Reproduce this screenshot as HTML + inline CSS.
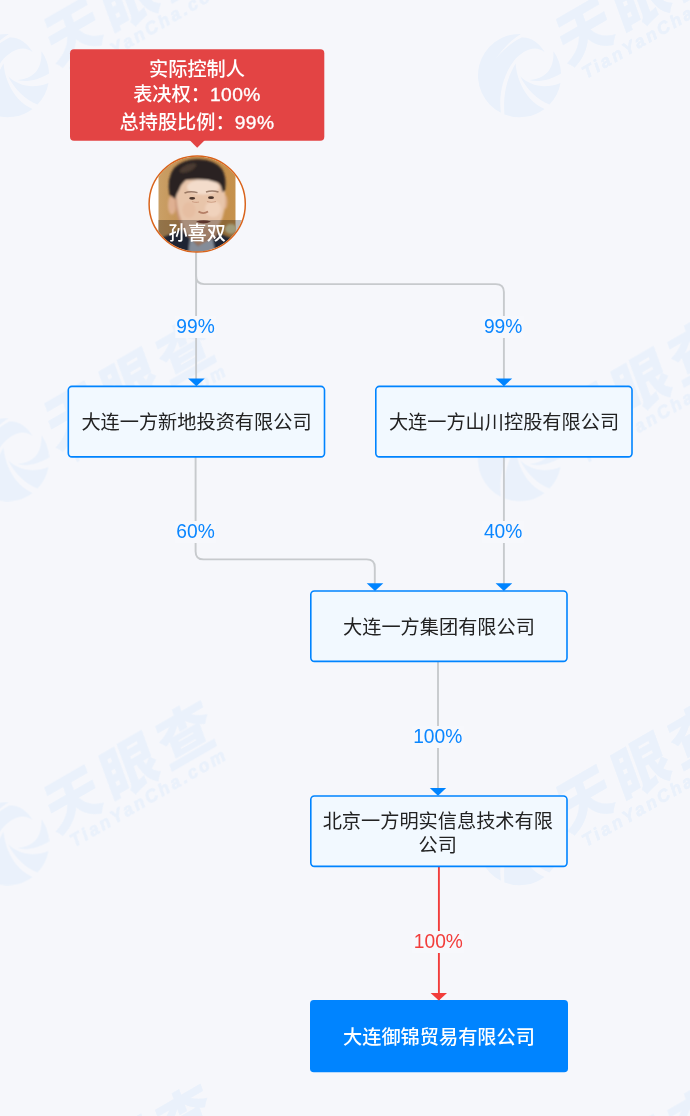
<!DOCTYPE html>
<html lang="zh-CN">
<head>
<meta charset="utf-8">
<title>实际控制人</title>
<style>
html,body{margin:0;padding:0;}
body{width:690px;height:1116px;overflow:hidden;background:#f6f7fb;position:relative;
  font-family:"Liberation Sans","Noto Sans CJK SC",sans-serif;}
#stage{position:absolute;left:0;top:0;width:690px;height:1116px;overflow:hidden;}
svg{position:absolute;left:0;top:0;}
.node{position:absolute;box-sizing:border-box;width:258px;height:72px;color:#222;font-size:19.2px;line-height:24px;display:flex;align-items:center;justify-content:center;
  text-align:center;padding:0 10px;}
.node.main{color:#fff;font-weight:500;}
.pct{position:absolute;font-size:19.2px;line-height:22px;height:22px;transform:translateX(-50%);padding:0 1.5px;white-space:nowrap;color:#0a86ff;background:#f7f8fc;}
.pct span{display:inline-block;transform:translateY(0.5px) scaleY(1.07);transform-origin:50% 78%;}
.pct.red{color:#f23d3b;}
.tip{position:absolute;left:70px;top:49.5px;width:254px;height:91.5px;color:#fff;
  font-weight:500;font-size:19.2px;text-align:center;}
.tip span{letter-spacing:0.45px;-webkit-text-stroke:0.35px #fff;}
.tip div{position:absolute;left:0;width:100%;height:29px;line-height:29px;}
</style>
</head>
<body>
<div id="stage">
<svg id="wm" width="690" height="1116" viewBox="0 0 690 1116"><g fill="#1890ff" stroke="#1890ff" stroke-width="0" stroke-linejoin="round" opacity="0.052" font-family="'Liberation Sans','Noto Sans CJK SC',sans-serif">
  <g transform="translate(7.5,-309)">
    <path d="M1.4,-41.6 A41.7 41.7 0 0 0 -18.6,37.3 C-21,20 -17,1 -5.8,-14.5 C2,-24 15,-32 25.3,-23.2 C20,-33 10,-39 2,-38 C-8,-33 -17,-25 -24.5,-16 C-16,-27.5 -8,-36 1.4,-41.6 Z"/>
    <path d="M-4,-12 C-14,5 -16.5,22 -15,39 A41.7 41.7 0 0 0 25,33.4 C10,27 -2,10 -4,-12 Z"/>
    <path d="M0.7,0.7 C10,10 25,14 41,7.5 A41.7 41.7 0 0 1 30,29 C18,24 7,14 0.7,0.7 Z"/>
    <path d="M34,-24.2 A41.7 41.7 0 0 1 41.6,-2 C30,5 18,7 10,4.5 C20,4 35,-1 34,-24.2 Z"/>
    <g transform="rotate(-30)">
      <text transform="translate(46,15.5) skewX(-10)" font-size="58" font-weight="900" letter-spacing="7" stroke-width="0.3">天眼查</text>
      <text transform="translate(56,36.5)" font-size="17.5" font-weight="700" font-style="italic" letter-spacing="2.7" stroke-width="0.7">TianYanCha.com</text>
    </g>
  </g>
  <g transform="translate(519.5,-309)">
    <path d="M1.4,-41.6 A41.7 41.7 0 0 0 -18.6,37.3 C-21,20 -17,1 -5.8,-14.5 C2,-24 15,-32 25.3,-23.2 C20,-33 10,-39 2,-38 C-8,-33 -17,-25 -24.5,-16 C-16,-27.5 -8,-36 1.4,-41.6 Z"/>
    <path d="M-4,-12 C-14,5 -16.5,22 -15,39 A41.7 41.7 0 0 0 25,33.4 C10,27 -2,10 -4,-12 Z"/>
    <path d="M0.7,0.7 C10,10 25,14 41,7.5 A41.7 41.7 0 0 1 30,29 C18,24 7,14 0.7,0.7 Z"/>
    <path d="M34,-24.2 A41.7 41.7 0 0 1 41.6,-2 C30,5 18,7 10,4.5 C20,4 35,-1 34,-24.2 Z"/>
    <g transform="rotate(-30)">
      <text transform="translate(46,15.5) skewX(-10)" font-size="58" font-weight="900" letter-spacing="7" stroke-width="0.3">天眼查</text>
      <text transform="translate(56,36.5)" font-size="17.5" font-weight="700" font-style="italic" letter-spacing="2.7" stroke-width="0.7">TianYanCha.com</text>
    </g>
  </g>
  <g transform="translate(7.5,75.5)">
    <path d="M1.4,-41.6 A41.7 41.7 0 0 0 -18.6,37.3 C-21,20 -17,1 -5.8,-14.5 C2,-24 15,-32 25.3,-23.2 C20,-33 10,-39 2,-38 C-8,-33 -17,-25 -24.5,-16 C-16,-27.5 -8,-36 1.4,-41.6 Z"/>
    <path d="M-4,-12 C-14,5 -16.5,22 -15,39 A41.7 41.7 0 0 0 25,33.4 C10,27 -2,10 -4,-12 Z"/>
    <path d="M0.7,0.7 C10,10 25,14 41,7.5 A41.7 41.7 0 0 1 30,29 C18,24 7,14 0.7,0.7 Z"/>
    <path d="M34,-24.2 A41.7 41.7 0 0 1 41.6,-2 C30,5 18,7 10,4.5 C20,4 35,-1 34,-24.2 Z"/>
    <g transform="rotate(-30)">
      <text transform="translate(46,15.5) skewX(-10)" font-size="58" font-weight="900" letter-spacing="7" stroke-width="0.3">天眼查</text>
      <text transform="translate(56,36.5)" font-size="17.5" font-weight="700" font-style="italic" letter-spacing="2.7" stroke-width="0.7">TianYanCha.com</text>
    </g>
  </g>
  <g transform="translate(519.5,75.5)">
    <path d="M1.4,-41.6 A41.7 41.7 0 0 0 -18.6,37.3 C-21,20 -17,1 -5.8,-14.5 C2,-24 15,-32 25.3,-23.2 C20,-33 10,-39 2,-38 C-8,-33 -17,-25 -24.5,-16 C-16,-27.5 -8,-36 1.4,-41.6 Z"/>
    <path d="M-4,-12 C-14,5 -16.5,22 -15,39 A41.7 41.7 0 0 0 25,33.4 C10,27 -2,10 -4,-12 Z"/>
    <path d="M0.7,0.7 C10,10 25,14 41,7.5 A41.7 41.7 0 0 1 30,29 C18,24 7,14 0.7,0.7 Z"/>
    <path d="M34,-24.2 A41.7 41.7 0 0 1 41.6,-2 C30,5 18,7 10,4.5 C20,4 35,-1 34,-24.2 Z"/>
    <g transform="rotate(-30)">
      <text transform="translate(46,15.5) skewX(-10)" font-size="58" font-weight="900" letter-spacing="7" stroke-width="0.3">天眼查</text>
      <text transform="translate(56,36.5)" font-size="17.5" font-weight="700" font-style="italic" letter-spacing="2.7" stroke-width="0.7">TianYanCha.com</text>
    </g>
  </g>
  <g transform="translate(7.5,459.5)">
    <path d="M1.4,-41.6 A41.7 41.7 0 0 0 -18.6,37.3 C-21,20 -17,1 -5.8,-14.5 C2,-24 15,-32 25.3,-23.2 C20,-33 10,-39 2,-38 C-8,-33 -17,-25 -24.5,-16 C-16,-27.5 -8,-36 1.4,-41.6 Z"/>
    <path d="M-4,-12 C-14,5 -16.5,22 -15,39 A41.7 41.7 0 0 0 25,33.4 C10,27 -2,10 -4,-12 Z"/>
    <path d="M0.7,0.7 C10,10 25,14 41,7.5 A41.7 41.7 0 0 1 30,29 C18,24 7,14 0.7,0.7 Z"/>
    <path d="M34,-24.2 A41.7 41.7 0 0 1 41.6,-2 C30,5 18,7 10,4.5 C20,4 35,-1 34,-24.2 Z"/>
    <g transform="rotate(-30)">
      <text transform="translate(46,15.5) skewX(-10)" font-size="58" font-weight="900" letter-spacing="7" stroke-width="0.3">天眼查</text>
      <text transform="translate(56,36.5)" font-size="17.5" font-weight="700" font-style="italic" letter-spacing="2.7" stroke-width="0.7">TianYanCha.com</text>
    </g>
  </g>
  <g transform="translate(519.5,459.5)">
    <path d="M1.4,-41.6 A41.7 41.7 0 0 0 -18.6,37.3 C-21,20 -17,1 -5.8,-14.5 C2,-24 15,-32 25.3,-23.2 C20,-33 10,-39 2,-38 C-8,-33 -17,-25 -24.5,-16 C-16,-27.5 -8,-36 1.4,-41.6 Z"/>
    <path d="M-4,-12 C-14,5 -16.5,22 -15,39 A41.7 41.7 0 0 0 25,33.4 C10,27 -2,10 -4,-12 Z"/>
    <path d="M0.7,0.7 C10,10 25,14 41,7.5 A41.7 41.7 0 0 1 30,29 C18,24 7,14 0.7,0.7 Z"/>
    <path d="M34,-24.2 A41.7 41.7 0 0 1 41.6,-2 C30,5 18,7 10,4.5 C20,4 35,-1 34,-24.2 Z"/>
    <g transform="rotate(-30)">
      <text transform="translate(46,15.5) skewX(-10)" font-size="58" font-weight="900" letter-spacing="7" stroke-width="0.3">天眼查</text>
      <text transform="translate(56,36.5)" font-size="17.5" font-weight="700" font-style="italic" letter-spacing="2.7" stroke-width="0.7">TianYanCha.com</text>
    </g>
  </g>
  <g transform="translate(7.5,843.5)">
    <path d="M1.4,-41.6 A41.7 41.7 0 0 0 -18.6,37.3 C-21,20 -17,1 -5.8,-14.5 C2,-24 15,-32 25.3,-23.2 C20,-33 10,-39 2,-38 C-8,-33 -17,-25 -24.5,-16 C-16,-27.5 -8,-36 1.4,-41.6 Z"/>
    <path d="M-4,-12 C-14,5 -16.5,22 -15,39 A41.7 41.7 0 0 0 25,33.4 C10,27 -2,10 -4,-12 Z"/>
    <path d="M0.7,0.7 C10,10 25,14 41,7.5 A41.7 41.7 0 0 1 30,29 C18,24 7,14 0.7,0.7 Z"/>
    <path d="M34,-24.2 A41.7 41.7 0 0 1 41.6,-2 C30,5 18,7 10,4.5 C20,4 35,-1 34,-24.2 Z"/>
    <g transform="rotate(-30)">
      <text transform="translate(46,15.5) skewX(-10)" font-size="58" font-weight="900" letter-spacing="7" stroke-width="0.3">天眼查</text>
      <text transform="translate(56,36.5)" font-size="17.5" font-weight="700" font-style="italic" letter-spacing="2.7" stroke-width="0.7">TianYanCha.com</text>
    </g>
  </g>
  <g transform="translate(519.5,843.5)">
    <path d="M1.4,-41.6 A41.7 41.7 0 0 0 -18.6,37.3 C-21,20 -17,1 -5.8,-14.5 C2,-24 15,-32 25.3,-23.2 C20,-33 10,-39 2,-38 C-8,-33 -17,-25 -24.5,-16 C-16,-27.5 -8,-36 1.4,-41.6 Z"/>
    <path d="M-4,-12 C-14,5 -16.5,22 -15,39 A41.7 41.7 0 0 0 25,33.4 C10,27 -2,10 -4,-12 Z"/>
    <path d="M0.7,0.7 C10,10 25,14 41,7.5 A41.7 41.7 0 0 1 30,29 C18,24 7,14 0.7,0.7 Z"/>
    <path d="M34,-24.2 A41.7 41.7 0 0 1 41.6,-2 C30,5 18,7 10,4.5 C20,4 35,-1 34,-24.2 Z"/>
    <g transform="rotate(-30)">
      <text transform="translate(46,15.5) skewX(-10)" font-size="58" font-weight="900" letter-spacing="7" stroke-width="0.3">天眼查</text>
      <text transform="translate(56,36.5)" font-size="17.5" font-weight="700" font-style="italic" letter-spacing="2.7" stroke-width="0.7">TianYanCha.com</text>
    </g>
  </g>
  <g transform="translate(7.5,1227.5)">
    <path d="M1.4,-41.6 A41.7 41.7 0 0 0 -18.6,37.3 C-21,20 -17,1 -5.8,-14.5 C2,-24 15,-32 25.3,-23.2 C20,-33 10,-39 2,-38 C-8,-33 -17,-25 -24.5,-16 C-16,-27.5 -8,-36 1.4,-41.6 Z"/>
    <path d="M-4,-12 C-14,5 -16.5,22 -15,39 A41.7 41.7 0 0 0 25,33.4 C10,27 -2,10 -4,-12 Z"/>
    <path d="M0.7,0.7 C10,10 25,14 41,7.5 A41.7 41.7 0 0 1 30,29 C18,24 7,14 0.7,0.7 Z"/>
    <path d="M34,-24.2 A41.7 41.7 0 0 1 41.6,-2 C30,5 18,7 10,4.5 C20,4 35,-1 34,-24.2 Z"/>
    <g transform="rotate(-30)">
      <text transform="translate(46,15.5) skewX(-10)" font-size="58" font-weight="900" letter-spacing="7" stroke-width="0.3">天眼查</text>
      <text transform="translate(56,36.5)" font-size="17.5" font-weight="700" font-style="italic" letter-spacing="2.7" stroke-width="0.7">TianYanCha.com</text>
    </g>
  </g>
  <g transform="translate(519.5,1227.5)">
    <path d="M1.4,-41.6 A41.7 41.7 0 0 0 -18.6,37.3 C-21,20 -17,1 -5.8,-14.5 C2,-24 15,-32 25.3,-23.2 C20,-33 10,-39 2,-38 C-8,-33 -17,-25 -24.5,-16 C-16,-27.5 -8,-36 1.4,-41.6 Z"/>
    <path d="M-4,-12 C-14,5 -16.5,22 -15,39 A41.7 41.7 0 0 0 25,33.4 C10,27 -2,10 -4,-12 Z"/>
    <path d="M0.7,0.7 C10,10 25,14 41,7.5 A41.7 41.7 0 0 1 30,29 C18,24 7,14 0.7,0.7 Z"/>
    <path d="M34,-24.2 A41.7 41.7 0 0 1 41.6,-2 C30,5 18,7 10,4.5 C20,4 35,-1 34,-24.2 Z"/>
    <g transform="rotate(-30)">
      <text transform="translate(46,15.5) skewX(-10)" font-size="58" font-weight="900" letter-spacing="7" stroke-width="0.3">天眼查</text>
      <text transform="translate(56,36.5)" font-size="17.5" font-weight="700" font-style="italic" letter-spacing="2.7" stroke-width="0.7">TianYanCha.com</text>
    </g>
  </g>
</g></svg>
<svg id="lines" width="690" height="1116" viewBox="0 0 690 1116" fill="none">
  <g stroke="#c7cacd" stroke-width="1.9">
    <path d="M196.1 252 V385.5"/>
    <path d="M196.1 252 V276.1 Q196.1 284.1 204.1 284.1 H495.9 Q503.9 284.1 503.9 292.1 V385.5"/>
    <path d="M195.6 457 V551.4 Q195.6 559.4 203.6 559.4 H366.8 Q374.8 559.4 374.8 567.4 V590"/>
    <path d="M503.9 457 V590"/>
    <path d="M438 662 V795"/>
  </g>
  <path d="M438.9 867 V1000" stroke="#f23d3b" stroke-width="1.9"/>
  <g fill="#f2f9ff" stroke="#0084ff" stroke-width="1.6">
    <rect x="68.3" y="386.4" width="256.2" height="70.5" rx="3.6"/>
    <rect x="375.8" y="386.4" width="256.2" height="70.5" rx="3.6"/>
    <rect x="310.8" y="591" width="256.2" height="70.4" rx="3.6"/>
    <rect x="310.8" y="796" width="256.2" height="70.4" rx="3.6"/>
  </g>
  <rect x="310" y="1000.1" width="258" height="72.2" rx="3.8" fill="#0084ff"/>
  <g fill="#0084ff">
    <path d="M188.1 378.4 H204.7 L196.4 386.2 Z"/>
    <path d="M495.6 378.4 H512.2 L503.9 386.2 Z"/>
    <path d="M366.7 583.2 H383.3 L375 591 Z"/>
    <path d="M495.6 583.2 H512.2 L503.9 591 Z"/>
    <path d="M429.8 788.1 H446.2 L438 795.8 Z"/>
  </g>
  <path d="M430.6 992.9 H447 L438.8 1000.4 Z" fill="#f23d3b"/>
  <rect x="70" y="49.2" width="254.3" height="91.5" rx="4" fill="#e34444"/>
  <path d="M189 139.4 H205.4 L197.2 147.8 Z" fill="#e34444"/>
</svg>

<div class="pct" style="left:195.5px;top:316px;"><span>99%</span></div>
<div class="pct" style="left:503.1px;top:316px;"><span>99%</span></div>
<div class="pct" style="left:195.5px;top:521px;"><span>60%</span></div>
<div class="pct" style="left:503.1px;top:521px;"><span>40%</span></div>
<div class="pct" style="left:437.7px;top:726px;"><span>100%</span></div>
<div class="pct red" style="left:438.4px;top:930.5px;"><span>100%</span></div>

<div class="tip">
  <div style="top:5.5px;">实际控制人</div>
  <div style="top:30.2px;">表决权：<span>100%</span></div>
  <div style="top:58.9px;">总持股比例：<span>99%</span></div>
</div>

<svg id="avatar" width="690" height="1116" viewBox="0 0 690 1116">
  <defs>
    <clipPath id="cpC"><circle cx="197.2" cy="204" r="47.4"/></clipPath>
    <clipPath id="cpP"><rect x="158.3" y="150" width="77.4" height="110"/></clipPath>
    <filter id="b1" x="-20%" y="-20%" width="140%" height="140%"><feGaussianBlur stdDeviation="1.3"/></filter>
    <filter id="b2" x="-20%" y="-20%" width="140%" height="140%"><feGaussianBlur stdDeviation="0.7"/></filter>
    <linearGradient id="bgG" x1="0" y1="0" x2="1" y2="0">
      <stop offset="0" stop-color="#caa067"/><stop offset="0.45" stop-color="#c18c4c"/><stop offset="1" stop-color="#c6924d"/>
    </linearGradient>
  </defs>
  <circle cx="197.2" cy="204" r="48" fill="#ffffff"/>
  <g clip-path="url(#cpC)">
    <g clip-path="url(#cpP)">
      <rect x="158.3" y="150" width="77.4" height="110" fill="url(#bgG)"/>
      <g filter="url(#b1)">
        <ellipse cx="231" cy="229" rx="6" ry="5" fill="#ddd6a8"/>
        <!-- suit -->
        <path d="M150 262 L150 243 Q166 236 183 229 L217 233 Q228 236 245 246 L245 262 Z" fill="#2a3346"/>
        <!-- shirt -->
        <path d="M190 238 L198 246 L212 236 L216 256 L188 256 Z" fill="#b5c1d2"/>
        <!-- neck -->
        <path d="M182 214 L218 214 L217 236 L198 246 L184 232 Z" fill="#d1a283"/>
        <!-- ears -->
        <ellipse cx="172" cy="205" rx="4" ry="9.5" fill="#dfb092"/>
        <ellipse cx="225.2" cy="202" rx="2.4" ry="7" fill="#dbab88"/>
        <!-- face -->
        <path d="M175 190 Q174.5 176 198 175 Q224 176 225 192 Q226.5 212 219.5 224 Q210 238 199.5 238 Q188 238 180.5 224 Q175 212 175 190 Z" fill="#e8c5aa"/>
        <ellipse cx="203" cy="187" rx="16" ry="7.5" fill="#f3dccb"/>
        <ellipse cx="213" cy="209" rx="8" ry="8" fill="#f0d2bc"/>
        <ellipse cx="189" cy="210" rx="6.5" ry="8" fill="#e6bea2"/>
        <path d="M176.5 198 Q177.5 215 185 229 L181 227 Q175 213 175 198 Z" fill="#c9957a"/>
        <ellipse cx="203.5" cy="231" rx="10" ry="4" fill="#d7a98c"/>
        <!-- hair -->
        <path d="M169.5 195 Q166.5 178 174 168 Q184 158.5 199 159.3 Q215 160 222 169 Q227 177 225 191 L222.3 192 Q221.5 184 217.3 182.5 Q205 177.5 186 180 Q181 184 179 190 Q176.5 193.5 175.3 199 Z" fill="#2b2421"/>
        <ellipse cx="188" cy="168" rx="9" ry="3.5" fill="#4b3b32" transform="rotate(-24 188 168)"/>
      </g>
      <g filter="url(#b2)">
        <!-- brows / eyes / nose / mouth -->
        <path d="M184.5 193 Q190.5 190.6 197.5 192.6" stroke="#7a5846" stroke-width="1.5" fill="none" opacity="0.7"/>
        <path d="M206 192 Q212 189.8 218.5 192" stroke="#7a5846" stroke-width="1.5" fill="none" opacity="0.7"/>
        <ellipse cx="192.2" cy="198.3" rx="3" ry="1.4" fill="#4a342b"/>
        <ellipse cx="211" cy="197.7" rx="3" ry="1.4" fill="#4a342b"/>
        <path d="M192 201.5 Q196 203 199 202" stroke="#cfa085" stroke-width="1.2" fill="none"/>
        <path d="M207 201.5 Q211 203 216 201.5" stroke="#cfa085" stroke-width="1.2" fill="none"/>
        <path d="M198.5 211.5 Q203.2 214.8 208 211.5" stroke="#b57f66" stroke-width="1.8" fill="none"/>
        <path d="M196 221.5 Q203.5 219 211 221.5 Q203.5 225.5 196 221.5 Z" fill="#7d473e"/>
      </g>
    </g>
    <rect x="158.3" y="220" width="100" height="40" fill="#000" fill-opacity="0.27"/>
  </g>
  <circle cx="197.2" cy="204" r="48.1" fill="none" stroke="#d9641c" stroke-width="1.5"/>
  <text x="197.2" y="239.6" text-anchor="middle" fill="#fff" font-size="19.2" font-weight="500">孙喜双</text>
</svg>

<div class="node" style="left:67.5px;top:386.7px;">大连一方新地投资有限公司</div>
<div class="node" style="left:375px;top:386.7px;">大连一方山川控股有限公司</div>
<div class="node" style="left:310px;top:591.8px;">大连一方集团有限公司</div>
<div class="node" style="left:308.8px;top:797.55px;line-height:23.3px;">北京一方明实信息技术有限公司</div>
<div class="node main" style="left:310px;top:1001.8px;">大连御锦贸易有限公司</div>
</div>
</body>
</html>
